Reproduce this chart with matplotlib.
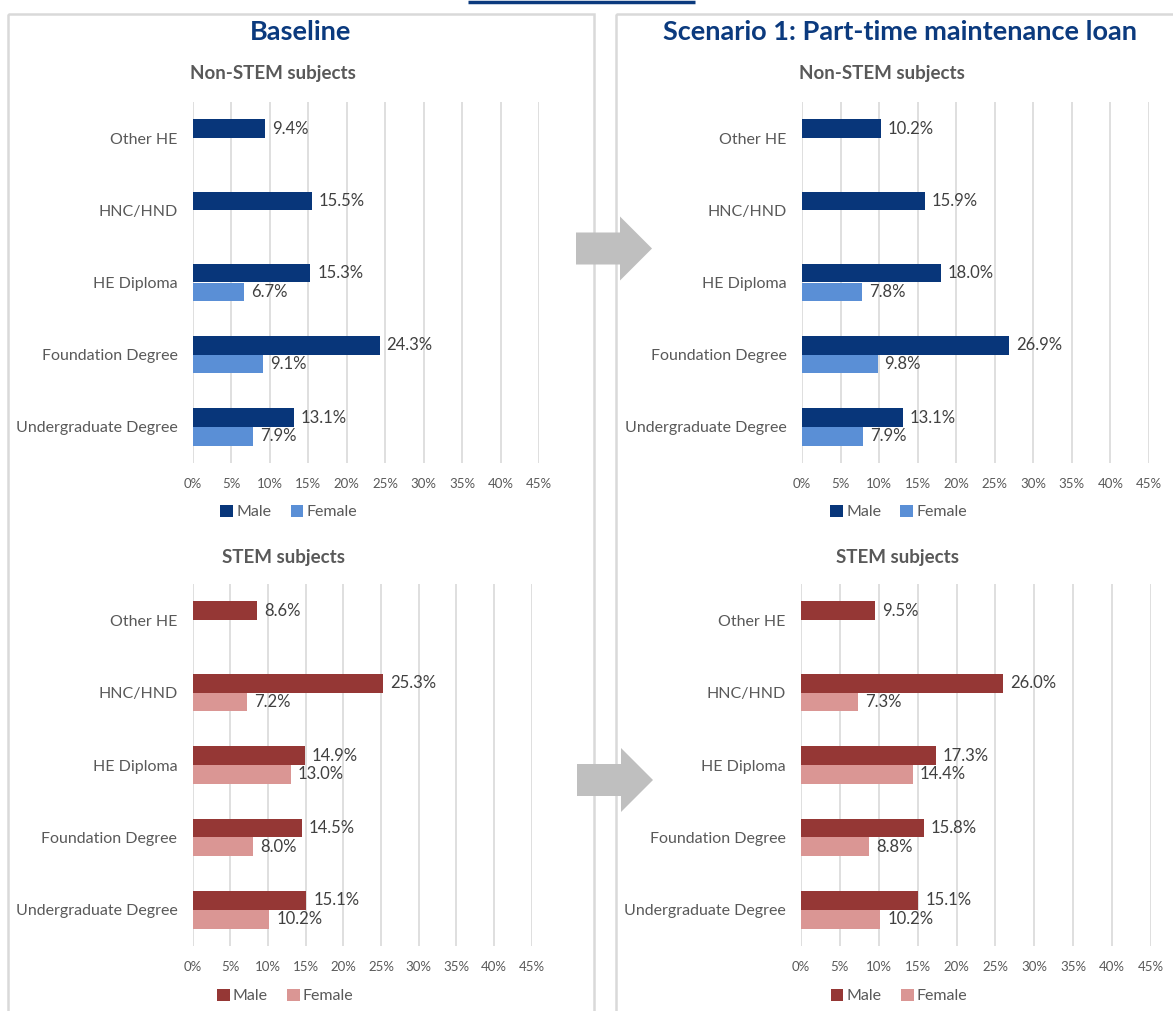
import numpy as np
import matplotlib
matplotlib.use("Agg")
import matplotlib.pyplot as plt
from matplotlib.patches import Polygon, Rectangle

plt.rcParams['font.family'] = ['Lato', 'DejaVu Sans']

W, H = 1173, 1011

categories = ['Other HE', 'HNC/HND', 'HE Diploma', 'Foundation Degree', 'Undergraduate Degree']
ticks = [0, 5, 10, 15, 20, 25, 30, 35, 40, 45]

nonstem_base_male = [9.4, 15.5, 15.3, 24.3, 13.1]
nonstem_base_female = [np.nan, np.nan, 6.7, 9.1, 7.9]
nonstem_scen_male = [10.2, 15.9, 18.0, 26.9, 13.1]
nonstem_scen_female = [np.nan, np.nan, 7.8, 9.8, 7.9]

stem_base_male = [8.6, 25.3, 14.9, 14.5, 15.1]
stem_base_female = [np.nan, 7.2, 13.0, 8.0, 10.2]
stem_scen_male = [9.5, 26.0, 17.3, 15.8, 15.1]
stem_scen_female = [np.nan, 7.3, 14.4, 8.8, 10.2]

navy = '#08367A'
light_blue = '#5A8FD6'
maroon = '#953735'
pink = '#DA9694'
grey_txt = '#595959'
label_txt = '#404040'
header_blue = '#0B3A7E'
border = '#D9D9D9'

fig = plt.figure(figsize=(W / 100, H / 100), dpi=100)


def px_rect(x0, y0, x1, y1):
    return [x0 / W, 1 - y1 / H, (x1 - x0) / W, (y1 - y0) / H]


def draw_chart(x0, x1, y0, y1, male, female, c_male, c_female, legend_y):
    ax = fig.add_axes(px_rect(x0, y0, x1, y1))
    ax.set_facecolor('none')
    y = np.arange(len(categories))
    h = 0.26
    ax.barh(y - h / 2, male, h, color=c_male, label='Male', zorder=3)
    ax.barh(y + h / 2, female, h, color=c_female, label='Female', zorder=3)
    for yy, v in list(zip(y - h / 2, male)) + list(zip(y + h / 2, female)):
        if not np.isnan(v):
            ax.annotate(f'{v:.1f}%', (v, yy), xytext=(5, 0), textcoords='offset points',
                        va='center', ha='left', fontsize=12, color=label_txt)
    ax.set_xlim(0, 45)
    ax.set_ylim(len(categories) - 0.5, -0.5)
    ax.set_xticks(ticks)
    ax.set_xticklabels([f'{t}%' for t in ticks], fontsize=9.5, color=grey_txt)
    ax.set_yticks(y)
    ax.set_yticklabels(categories, fontsize=11.5, color=grey_txt)
    ax.tick_params(length=0, axis='x', pad=11)
    ax.tick_params(length=0, axis='y', pad=11)
    ax.grid(axis='x', color=border, lw=1.2, zorder=0)
    for s in ax.spines.values():
        s.set_visible(False)
    cx = (x0 + x1) / 2 - 77
    ax.legend(loc='center', bbox_to_anchor=(cx / W, 1 - legend_y / H),
              bbox_transform=fig.transFigure, ncol=2, frameon=False,
              fontsize=11.5, labelcolor=grey_txt, handlelength=0.8, handleheight=0.8,
              handletextpad=0.2, columnspacing=1.2, borderpad=0)
    return ax


draw_chart(192.7, 539, 102, 463, nonstem_base_male, nonstem_base_female, navy, light_blue, 512)
draw_chart(802, 1149, 102, 463, nonstem_scen_male, nonstem_scen_female, navy, light_blue, 512)
draw_chart(192.6, 531.8, 584, 946, stem_base_male, stem_base_female, maroon, pink, 996)
draw_chart(801, 1151, 584, 946, stem_scen_male, stem_scen_female, maroon, pink, 996)

# overlay for panel frames, headings and arrows
ov = fig.add_axes([0, 0, 1, 1], zorder=10)
ov.set_xlim(0, W)
ov.set_ylim(H, 0)
ov.axis('off')
ov.patch.set_alpha(0)

ov.add_patch(Rectangle((8, 14), 586, 1010, fill=False, ec=border, lw=1.8))
ov.add_patch(Rectangle((616, 14), 600, 1010, fill=False, ec=border, lw=1.8))
ov.plot([468, 695], [1.5, 1.5], color=header_blue, lw=2.5, solid_capstyle='butt')

ov.text(301, 32, 'Baseline', ha='center', va='center', fontsize=19.5, fontweight='bold',
        color=header_blue)
ov.text(900, 32, 'Scenario 1: Part-time maintenance loan', ha='center', va='center',
        fontsize=19.5, fontweight='bold', color=header_blue)

for x, yv, t in [(273, 74, 'Non-STEM subjects'), (882, 74, 'Non-STEM subjects'),
                 (283, 557, 'STEM subjects'), (897, 557, 'STEM subjects')]:
    ov.text(x, yv, t, ha='center', va='center', fontsize=13.5, fontweight='bold', color=grey_txt)

for (x0, yc) in [(576, 248.5), (577, 780)]:
    pts = [(x0, yc - 16), (x0 + 44, yc - 16), (x0 + 44, yc - 32), (x0 + 76, yc),
           (x0 + 44, yc + 32), (x0 + 44, yc + 16), (x0, yc + 16)]
    ov.add_patch(Polygon(pts, closed=True, fc='#BFBFBF', ec='none'))

fig.savefig('out.png', dpi=100)
